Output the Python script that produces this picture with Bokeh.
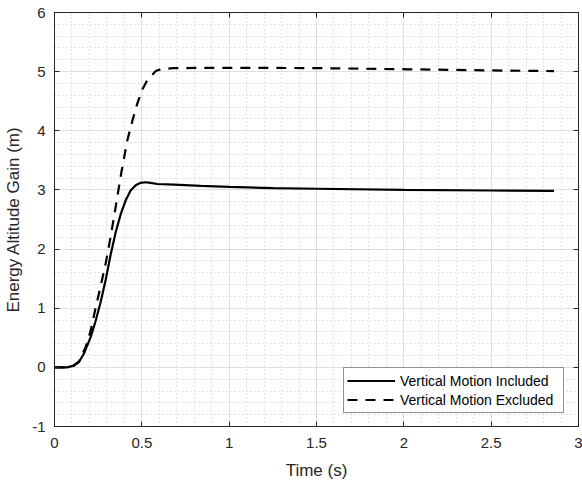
from bokeh.plotting import figure
from bokeh.models import (LinearAxis, SingleIntervalTicker, Range1d, Legend, LegendItem,
                          ColumnDataSource, Grid)
from bokeh.embed import file_html
from bokeh.resources import INLINE

# ---- data ----
t_incl = [0, 0.05, 0.073, 0.11, 0.14, 0.168, 0.207, 0.235, 0.264, 0.293, 0.321, 0.35,
          0.379, 0.407, 0.436, 0.465, 0.493, 0.522, 0.55, 0.589, 0.685, 0.838, 1.0,
          1.25, 1.5, 2.0, 2.5, 2.86]
v_incl = [0, 0, 0.0, 0.03, 0.09, 0.23, 0.51, 0.78, 1.1, 1.48, 1.9, 2.28,
          2.59, 2.82, 2.99, 3.08, 3.12, 3.13, 3.12, 3.10, 3.09, 3.07, 3.05,
          3.03, 3.02, 3.0, 2.99, 2.985]

t_excl = [0, 0.05, 0.073, 0.11, 0.14, 0.178, 0.207, 0.235, 0.264, 0.293, 0.321, 0.35,
          0.383, 0.417, 0.446, 0.474, 0.50, 0.53, 0.58, 0.608, 0.68, 1.0, 1.49,
          2.02, 2.5, 2.86]
v_excl = [0, 0, 0.0, 0.03, 0.1, 0.34, 0.62, 1.0, 1.37, 1.76, 2.2, 2.71,
          3.3, 3.84, 4.17, 4.46, 4.68, 4.85, 5.01, 5.04, 5.06, 5.065, 5.06,
          5.04, 5.02, 5.01]

series_names = ["Vertical Motion Included", "Vertical Motion Excluded"]
x_label = "Time (s)"
y_label = "Energy Altitude Gain (m)"
y_tick_overrides = {-1: "-1"}

FONT = "Liberation Sans"
DARK = "#262626"

p = figure(width=582, height=483, output_backend="svg", toolbar_location=None,
           x_range=Range1d(0, 3), y_range=Range1d(-1, 6),
           x_axis_type=None, y_axis_type=None,
           min_border_left=54, min_border_right=4, min_border_top=12, min_border_bottom=57)
p.background_fill_color = "white"
p.border_fill_color = "white"
p.outline_line_color = DARK
p.outline_line_width = 1

xt = SingleIntervalTicker(interval=0.5, num_minor_ticks=5)
yt = SingleIntervalTicker(interval=1, num_minor_ticks=5)

def style_axis(ax, show_labels):
    ax.axis_line_color = DARK
    ax.axis_line_width = 1
    ax.major_tick_line_color = DARK
    ax.major_tick_in = 5
    ax.major_tick_out = 0
    ax.minor_tick_in = 0
    ax.minor_tick_out = 0
    ax.major_label_text_font = FONT
    ax.axis_label_text_font = FONT
    ax.axis_label_text_font_style = "normal"
    ax.axis_label_text_color = DARK
    if show_labels:
        ax.major_label_text_color = DARK
        ax.major_label_text_font_size = "15px"
        ax.axis_label_text_font_size = "17px"
    else:
        ax.major_label_text_color = None
        ax.major_label_text_font_size = "1px"
        ax.major_label_standoff = 0

xb = LinearAxis(ticker=xt, axis_label=x_label)
style_axis(xb, True)
xb.major_label_standoff = 11
xb.axis_label_standoff = 10
p.add_layout(xb, "below")

yl = LinearAxis(ticker=yt, axis_label=y_label)
style_axis(yl, True)
yl.major_label_standoff = 9
yl.axis_label_standoff = 6
yl.major_label_overrides = y_tick_overrides
p.add_layout(yl, "left")

xa = LinearAxis(ticker=xt)
style_axis(xa, False)
p.add_layout(xa, "above")
yr = LinearAxis(ticker=yt)
style_axis(yr, False)
p.add_layout(yr, "right")

for dim, tk in ((0, xt), (1, yt)):
    g = Grid(dimension=dim, ticker=tk)
    g.grid_line_color = "#dedede"
    g.grid_line_width = 1
    g.minor_grid_line_color = "#c4c4c4"
    g.minor_grid_line_dash = "1 3"
    g.minor_grid_line_width = 1
    p.add_layout(g, "center")

src_i = ColumnDataSource(dict(t=t_incl, v=v_incl))
src_e = ColumnDataSource(dict(t=t_excl, v=v_excl))
r1 = p.line("t", "v", source=src_i, line_color="black", line_width=2.2)
r2 = p.line("t", "v", source=src_e, line_color="black", line_width=2.2, line_dash="10 8")

leg = Legend(items=[LegendItem(label=series_names[0], renderers=[r1]),
                    LegendItem(label=series_names[1], renderers=[r2])],
             location=(289, 13))
leg.margin = 0
leg.padding = 3
leg.spacing = 0
leg.glyph_width = 48
leg.glyph_height = 19
leg.label_height = 19
leg.label_width = 160
leg.label_standoff = 5
leg.label_text_font = FONT
leg.label_text_font_size = "14px"
leg.label_text_color = "black"
leg.border_line_color = DARK
leg.border_line_width = 1
leg.background_fill_color = "white"
leg.background_fill_alpha = 1
p.add_layout(leg, "center")

open("out.html", "w").write(file_html(p, INLINE))
